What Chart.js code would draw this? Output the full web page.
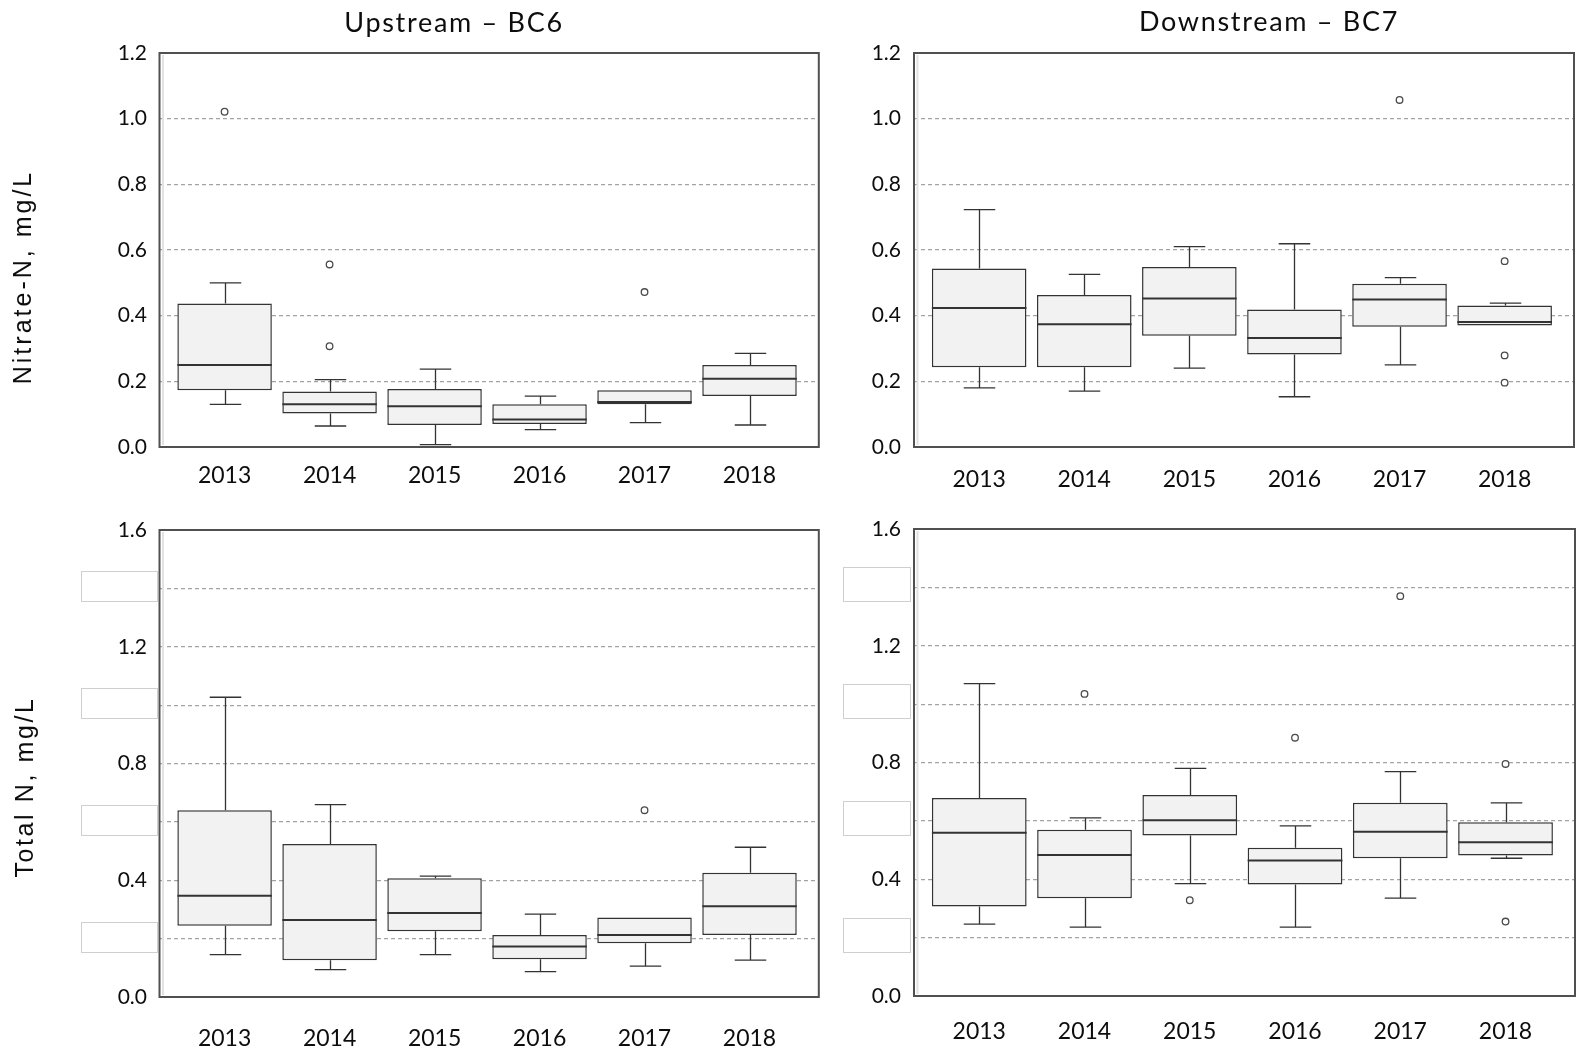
<!DOCTYPE html>
<html>
<head>
<meta charset="utf-8">
<script src="https://cdn.jsdelivr.net/npm/chart.js@4.4.1/dist/chart.umd.min.js"></script>
<style>
  html, body { margin: 0; padding: 0; background: #fff; overflow: hidden; }
  #wrap { position: relative; width: 1585px; height: 1061px; }
  canvas { position: absolute; }
</style>
</head>
<body>
<div id="wrap">
  <canvas id="bc6Nitrate" width="830" height="500" style="left:0;top:0"></canvas>
  <canvas id="bc7Nitrate" width="755" height="500" style="left:830px;top:0"></canvas>
  <canvas id="bc6TotalN" width="830" height="561" style="left:0;top:500px"></canvas>
  <canvas id="bc7TotalN" width="755" height="561" style="left:830px;top:500px"></canvas>
</div>
<script>
// Sampling years (one box per year)
const years = ['2013', '2014', '2015', '2016', '2017', '2018'];

// Upstream BC6 – nitrate-N (mg/L): whisker ends, quartiles, median, outliers
const bc6NitrateMin = [0.130, 0.064, 0.007, 0.053, 0.074, 0.067];
const bc6NitrateQ1  = [0.173, 0.102, 0.067, 0.070, 0.130, 0.155];
const bc6NitrateMed = [0.250, 0.130, 0.124, 0.084, 0.137, 0.208];
const bc6NitrateQ3  = [0.437, 0.169, 0.177, 0.130, 0.173, 0.250];
const bc6NitrateMax = [0.500, 0.205, 0.237, 0.155, 0.173, 0.285];
const bc6NitrateOut = [[1.021], [0.556, 0.307], [], [], [0.472], []];

// Downstream BC7 – nitrate-N (mg/L)
const bc7NitrateMin = [0.180, 0.170, 0.240, 0.153, 0.250, 0.370];
const bc7NitrateQ1  = [0.243, 0.243, 0.339, 0.282, 0.366, 0.370];
const bc7NitrateMed = [0.423, 0.374, 0.452, 0.332, 0.449, 0.381];
const bc7NitrateQ3  = [0.544, 0.463, 0.548, 0.419, 0.497, 0.431];
const bc7NitrateMax = [0.723, 0.526, 0.610, 0.619, 0.516, 0.438];
const bc7NitrateOut = [[], [], [], [], [1.057], [0.566, 0.279, 0.196]];

// Upstream BC6 – total N (mg/L)
const bc6TotalNMin = [0.145, 0.094, 0.145, 0.087, 0.106, 0.126];
const bc6TotalNQ1  = [0.244, 0.126, 0.225, 0.129, 0.184, 0.212];
const bc6TotalNMed = [0.347, 0.264, 0.288, 0.173, 0.212, 0.311];
const bc6TotalNQ3  = [0.640, 0.524, 0.407, 0.212, 0.272, 0.426];
const bc6TotalNMax = [1.027, 0.659, 0.414, 0.284, 0.272, 0.513];
const bc6TotalNOut = [[], [], [], [], [0.640], []];

// Downstream BC7 – total N (mg/L)
const bc7TotalNMin = [0.246, 0.236, 0.385, 0.236, 0.335, 0.472];
const bc7TotalNQ1  = [0.307, 0.335, 0.550, 0.382, 0.472, 0.481];
const bc7TotalNMed = [0.559, 0.483, 0.602, 0.464, 0.563, 0.527];
const bc7TotalNQ3  = [0.678, 0.570, 0.689, 0.508, 0.662, 0.595];
const bc7TotalNMax = [1.070, 0.610, 0.780, 0.583, 0.769, 0.662];
const bc7TotalNOut = [[], [1.035], [0.328], [0.885], [1.370], [0.795, 0.255]];

// Value axes: nitrate runs 0–1.2, total N 0–1.6 (labels every 0.4, blank slots between)
const nitrateAxisMax = 1.2;
const totalNAxisMax = 1.6;
const axisStep = 0.2;
const totalNLabelled = [0.0, 0.4, 0.8, 1.2, 1.6];
const totalNBlankTicks = [0.2, 0.6, 1.0, 1.4];

const BOX_COLOR = '#f2f2f2';
const LINE_COLOR = '#333333';
const TEXT_COLOR = '#0d0d0d';

// Whiskers, caps, medians, the plot frame, blank label plates and text
const boxDecor = {
  id: 'boxDecor',
  beforeDatasetsDraw(chart, args, o) {
    const { ctx } = chart;
    const xs = chart.scales.x, ys = chart.scales.y;
    const s = o.stats;
    const capHalf = xs.getPixelForValue(o.capWidth / 2) - xs.getPixelForValue(0);
    ctx.save();
    ctx.strokeStyle = LINE_COLOR;
    ctx.lineWidth = 1.3;
    years.forEach((_, i) => {
      const cx = Math.round(xs.getPixelForValue(i)) + 0.5;
      const whisker = (from, to) => {
        if (Math.abs(to - from) < 1e-9) return;
        const y0 = ys.getPixelForValue(from), y1 = ys.getPixelForValue(to);
        ctx.beginPath();
        ctx.moveTo(cx, y0); ctx.lineTo(cx, y1);
        ctx.moveTo(cx - capHalf, y1); ctx.lineTo(cx + capHalf, y1);
        ctx.stroke();
      };
      whisker(s.q3[i], s.max[i]);
      whisker(s.q1[i], s.min[i]);
    });
    ctx.restore();
  },
  afterDatasetsDraw(chart, args, o) {
    const { ctx, chartArea: a } = chart;
    const ys = chart.scales.y;
    const s = o.stats;
    const bars = chart.getDatasetMeta(0).data;
    ctx.save();
    // medians
    ctx.strokeStyle = LINE_COLOR;
    ctx.lineWidth = 2;
    bars.forEach((bar, i) => {
      const y = ys.getPixelForValue(s.med[i]);
      ctx.beginPath();
      ctx.moveTo(bar.x - bar.width / 2, y);
      ctx.lineTo(bar.x + bar.width / 2, y);
      ctx.stroke();
    });
    // faint inner edge beside the left frame line
    ctx.strokeStyle = '#e2e2e2';
    ctx.lineWidth = 2;
    ctx.beginPath();
    ctx.moveTo(a.left + 3.5, a.top + 2);
    ctx.lineTo(a.left + 3.5, a.bottom - 2);
    ctx.stroke();
    // frame
    ctx.strokeStyle = '#505050';
    ctx.lineWidth = 2;
    ctx.strokeRect(a.left, a.top, a.right - a.left, a.bottom - a.top);
    // blank plates over the unlabelled value ticks
    if (o.blanks) {
      const b = o.blanks;
      ctx.fillStyle = '#ffffff';
      ctx.strokeStyle = '#cfcfcf';
      ctx.lineWidth = 1;
      b.values.forEach(v => {
        const y = ys.getPixelForValue(v);
        const x0 = a.left + b.x0, x1 = a.left + b.x1;
        ctx.fillRect(x0, y + b.dy, x1 - x0, b.h);
        ctx.strokeRect(Math.round(x0) + 0.5, Math.round(y + b.dy) + 0.5, Math.round(x1 - x0), Math.round(b.h));
      });
    }
    ctx.restore();
  },
  afterDraw(chart, args, o) {
    const { ctx } = chart;
    ctx.save();
    ctx.fillStyle = TEXT_COLOR;
    if (o.title) {
      const t = o.title;
      ctx.font = '27px Lato';
      ctx.letterSpacing = '1.7px';
      ctx.textAlign = 'center';
      ctx.textBaseline = 'alphabetic';
      ctx.fillText(t.text, t.x, t.y);
    }
    if (o.axisTitle) {
      const t = o.axisTitle;
      ctx.font = '25px "Liberation Sans", Arial, sans-serif';
      ctx.letterSpacing = t.spacing + 'px';
      ctx.textAlign = 'center';
      ctx.textBaseline = 'middle';
      ctx.translate(t.x, t.y);
      ctx.rotate(-Math.PI / 2);
      ctx.fillText(t.text, 0, 0);
    }
    ctx.restore();
  }
};

function buildPanel(id, stats, p) {
  const outliers = stats.out.flatMap((vals, i) => vals.map(v => ({ x: i, y: v })));
  return new Chart(document.getElementById(id), {
    type: 'bar',
    data: {
      datasets: [
        {
          type: 'bar',
          data: years.map((_, i) => ({ x: i, y: [stats.q1[i], stats.q3[i]] })),
          backgroundColor: BOX_COLOR,
          borderColor: LINE_COLOR,
          borderWidth: 1.5,
          borderSkipped: false,
          categoryPercentage: 1,
          barPercentage: 0.9,
          order: 2
        },
        {
          type: 'scatter',
          data: outliers,
          pointRadius: 3.3,
          pointBackgroundColor: '#ffffff',
          pointBorderColor: '#4a4a4a',
          pointBorderWidth: 1.3,
          order: 1
        }
      ]
    },
    options: {
      responsive: false,
      animation: false,
      devicePixelRatio: 1,
      layout: { padding: p.padding },
      plugins: {
        legend: { display: false },
        tooltip: { enabled: false },
        title: { display: false },
        boxDecor: {
          stats,
          capWidth: 0.3,
          title: p.title,
          axisTitle: p.axisTitle,
          blanks: p.blanks
        }
      },
      scales: {
        x: {
          type: 'linear',
          min: -0.62,
          max: 5.66,
          offset: false,
          grid: { display: false, drawTicks: false, offset: false },
          border: { display: false },
          afterBuildTicks: sc => { sc.ticks = years.map((_, i) => ({ value: i })); },
          afterFit: sc => { sc.height = p.xHeight; },
          ticks: {
            callback: v => years[v],
            font: { family: 'Lato', size: 23 },
            color: TEXT_COLOR,
            padding: p.xPad,
            maxRotation: 0,
            autoSkip: false
          }
        },
        y: {
          min: 0,
          max: p.yMax,
          grid: {
            color: c => (c.tick.value <= 1e-9 || c.tick.value >= p.yMax - 1e-9) ? 'rgba(0,0,0,0)' : '#a3a3a3',
            lineWidth: 1.2,
            drawTicks: false
          },
          border: { display: false, dash: [4, 3] },
          afterFit: sc => { sc.width = p.yWidth; },
          ticks: {
            stepSize: axisStep,
            callback: p.yLabel,
            font: { family: 'Lato', size: 21 },
            color: TEXT_COLOR,
            padding: p.yPad
          }
        }
      }
    },
    plugins: [boxDecor]
  });
}

const nitrateLabel = v => v.toFixed(1);
const totalNLabel = v => totalNLabelled.some(t => Math.abs(t - v) < 1e-6) ? v.toFixed(1) : '';

buildPanel('bc6Nitrate',
  { min: bc6NitrateMin, q1: bc6NitrateQ1, med: bc6NitrateMed, q3: bc6NitrateQ3, max: bc6NitrateMax, out: bc6NitrateOut },
  {
    padding: { left: 0, top: 53, right: 11.2, bottom: 0 },
    yWidth: 159.5, xHeight: 53, xPad: 15, yPad: 12.5,
    yMax: nitrateAxisMax, yLabel: nitrateLabel,
    title: { text: 'Upstream – BC6', x: 454, y: 32 },
    axisTitle: { text: 'Nitrate-N, mg/L', x: 24.5, y: 277, spacing: 3 }
  });

buildPanel('bc7Nitrate',
  { min: bc7NitrateMin, q1: bc7NitrateQ1, med: bc7NitrateMed, q3: bc7NitrateQ3, max: bc7NitrateMax, out: bc7NitrateOut },
  {
    padding: { left: 0, top: 53, right: 11, bottom: 0 },
    yWidth: 84, xHeight: 53, xPad: 18.5, yPad: 13,
    yMax: nitrateAxisMax, yLabel: nitrateLabel,
    title: { text: 'Downstream – BC7', x: 439, y: 30.5 }
  });

buildPanel('bc6TotalN',
  { min: bc6TotalNMin, q1: bc6TotalNQ1, med: bc6TotalNMed, q3: bc6TotalNQ3, max: bc6TotalNMax, out: bc6TotalNOut },
  {
    padding: { left: 0, top: 30, right: 11.2, bottom: 0 },
    yWidth: 159.5, xHeight: 64, xPad: 27.5, yPad: 12.5,
    yMax: totalNAxisMax, yLabel: totalNLabel,
    axisTitle: { text: 'Total N, mg/L', x: 26, y: 287, spacing: 2.6 },
    blanks: { values: totalNBlankTicks, x0: -78.5, x1: -2.5, dy: -17, h: 30 }
  });

buildPanel('bc7TotalN',
  { min: bc7TotalNMin, q1: bc7TotalNQ1, med: bc7TotalNMed, q3: bc7TotalNQ3, max: bc7TotalNMax, out: bc7TotalNOut },
  {
    padding: { left: 0, top: 29, right: 10, bottom: 0 },
    yWidth: 84, xHeight: 65, xPad: 21.5, yPad: 13,
    yMax: totalNAxisMax, yLabel: totalNLabel,
    blanks: { values: totalNBlankTicks, x0: -71, x1: -4, dy: -20, h: 34 }
  });
</script>
</body>
</html>
